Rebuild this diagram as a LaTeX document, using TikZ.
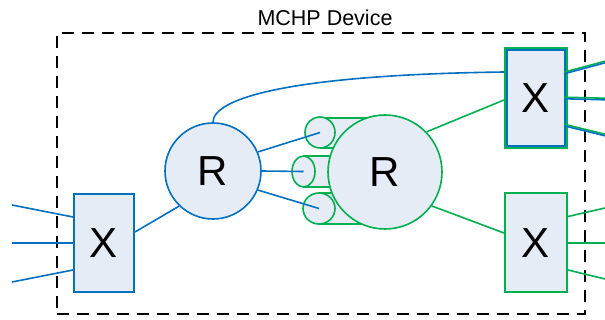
\documentclass[tikz,border=0pt]{standalone}
\usepackage{fontspec}
\setmainfont{Liberation Sans}
\usetikzlibrary{shapes.geometric}
\definecolor{mblue}{HTML}{0070C0}
\definecolor{mgreen}{HTML}{00B050}
\definecolor{mfill}{HTML}{E6ECF6}
\tikzset{
  bline/.style={draw=mblue,line width=1.6pt},
  gline/.style={draw=mgreen,line width=1.6pt},
  bigtxt/.style={font=\fontsize{42}{42}\selectfont},
  xbox/.style={rectangle,fill=mfill,line width=2pt,inner sep=0pt,bigtxt},
  rcirc/.style={circle,fill=mfill,line width=1.6pt,inner sep=0pt,bigtxt},
  tubeend/.style={ellipse,fill=mfill,draw=mgreen,line width=1.6pt,inner sep=0pt},
  devbox/.style={rectangle,draw=black,line width=1.8pt,dash pattern=on 12pt off 8pt}
}
\begin{document}
\begin{tikzpicture}[x=1pt,y=-1pt]
\useasboundingbox (0,0) rectangle (605,320);
% device boundary
\node[devbox,minimum width=528pt,minimum height=281pt] (dev) at (321,173.5) {};
\node[font=\fontsize{21.5}{21.5}\selectfont] (title) at (325,17.5) {MCHP Device};
% tubes
\fill[mfill] (320,118) rectangle (385,148);
\draw[gline] (320,118) -- (385,118) (320,148) -- (385,148);
\fill[mfill] (303,156) rectangle (385,187);
\draw[gline] (303,156) -- (385,156) (303,187) -- (385,187);
\fill[mfill] (319,193) rectangle (385,224);
\draw[gline] (319,193) -- (385,193) (319,224) -- (385,224);
\node[tubeend,minimum width=30pt,minimum height=31pt] (c1) at (320,132.5) {};
\node[tubeend,minimum width=23pt,minimum height=31pt] (c2) at (303.5,171.5) {};
\node[tubeend,minimum width=32pt,minimum height=31pt] (c3) at (319,208.5) {};
% routers
\node[rcirc,draw=mblue,minimum size=96pt] (r1) at (213,171) {R};
\node[rcirc,draw=mgreen,minimum size=114pt] (r2) at (385,172) {R};
% crossbars
\node[xbox,draw=mblue,minimum width=60pt,minimum height=98pt] (lx) at (104,243) {X};
\node[xbox,draw=mgreen,minimum width=62pt,minimum height=100pt] (tx) at (536,98) {X};
\draw[draw=mblue,line width=1.8pt] ([xshift=2.8pt,yshift=-2.8pt]tx.north west) rectangle ([xshift=-2.8pt,yshift=2.8pt]tx.south east);
\node[xbox,draw=mgreen,minimum width=62pt,minimum height=99pt] (bx) at (536,243) {X};
% free ends
\coordinate (l1) at (12,205);
\coordinate (l2) at (12,243);
\coordinate (l3) at (12,282);
\coordinate (t1) at (605,62);
\coordinate (t2) at (605,99);
\coordinate (t3) at (605,135);
\coordinate (b1) at (605,208);
\coordinate (b2) at (605,243);
\coordinate (b3) at (605,279);
% left crossbar links
\draw[bline] (l1) -- ([yshift=26pt]lx.west);
\draw[bline] (l2) -- (lx.west);
\draw[bline] (l3) -- ([yshift=-27pt]lx.west);
\draw[bline] ([yshift=11pt]lx.east) -- (r1.226);
% R1 to tube ends
\draw[bline] (r1.23) -- (c1.center);
\draw[bline] (r1.east) -- (c2.center);
\draw[bline] (r1.-23) -- (c3.center);
% long curve
\draw[bline] (r1.north) .. controls (213,100) and (280,75) .. ([yshift=26pt]tx.west);
% R2 links
\draw[gline] (r2.44) -- ([yshift=-2pt]tx.west);
\draw[gline] (r2.-36) -- ([yshift=10pt]bx.west);
% top right outputs (green + blue pair)
\draw[gline] ([xshift=-4pt,yshift=25.8pt]tx.east) -- ([yshift=0.8pt]t1);
\draw[bline] ([xshift=-4pt,yshift=24.2pt]tx.east) -- ([yshift=-0.8pt]t1);
\draw[gline] ([xshift=-4pt,yshift=0.8pt]tx.east) -- ([yshift=0.8pt]t2);
\draw[bline] ([xshift=-4pt,yshift=-0.8pt]tx.east) -- ([yshift=-0.8pt]t2);
\draw[gline] ([xshift=-4pt,yshift=-26.2pt]tx.east) -- ([yshift=0.8pt]t3);
\draw[bline] ([xshift=-4pt,yshift=-27.8pt]tx.east) -- ([yshift=-0.8pt]t3);
% bottom right outputs
\draw[gline] ([yshift=26.5pt]bx.east) -- (b1);
\draw[gline] (bx.east) -- (b2);
\draw[gline] ([yshift=-27pt]bx.east) -- (b3);
\end{tikzpicture}
\end{document}
